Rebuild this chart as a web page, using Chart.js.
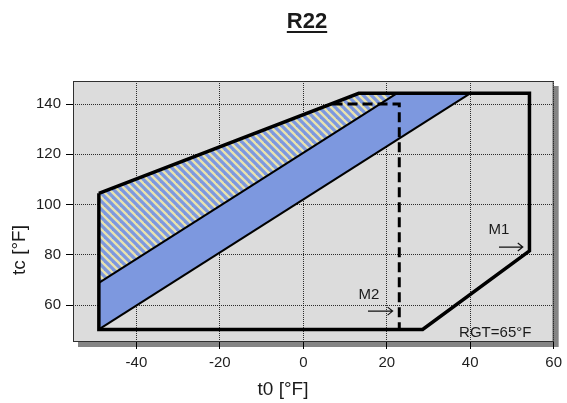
<!DOCTYPE html>
<html>
<head>
<meta charset="utf-8">
<script src="https://cdn.jsdelivr.net/npm/chart.js@4"></script>
<style>
    html, body { margin: 0; padding: 0; background: #fff; }
    #wrap { width: 567px; height: 403px; }
</style>
</head>
<body>
<div id="wrap"><canvas id="myChart" width="567" height="403"></canvas></div>
<script>
// R22 operating envelope, t0 / tc in °F
const t0Ticks = [-40, -20, 0, 20, 40, 60];
const tcTicks = [60, 80, 100, 120, 140];

// outer envelope (closed)
const envT0 = [-49, 13.3, 54.2, 54.2, 28.6, -49, -49];
const envTc = [104.5, 144.3, 144.3, 81.6, 50.3, 50.3, 104.5];

// hatched band top edge, and the line under it
const hatchT0 = [-49, 13.3, 22.4];
const hatchTc = [104.5, 144.3, 144.3];
const midT0 = [-49, 22.4];
const midTc = [68.8, 144.3];

// blue band top edge, and the lower line
const blueT0 = [-49, 22.4, 40];
const blueTc = [68.8, 144.3, 144.3];
const lowT0 = [-49, 40];
const lowTc = [50.3, 144.3];

// dashed limit
const dashT0 = [7, 23, 23];
const dashTc = [140, 140, 50.3];

const toPoints = (xs, ys) => xs.map((x, i) => ({x: x, y: ys[i]}));

// hatch pattern (blue with pale yellow diagonal stripes)
function makeHatch() {
    const s = 8;
    const tile = document.createElement('canvas');
    tile.width = s; tile.height = s;
    const c = tile.getContext('2d');
    c.fillStyle = '#7d98df';
    c.fillRect(0, 0, s, s);
    c.strokeStyle = '#e9e3ae';
    c.lineWidth = 2.4;
    for (let k = -1; k <= 1; k++) {
        c.beginPath();
        c.moveTo(k * s - 1, -1);
        c.lineTo(k * s + s + 1, s + 1);
        c.stroke();
    }
    return c.createPattern(tile, 'repeat');
}

const FONT = "'Liberation Sans', Arial, sans-serif";

// background, shadow, frame and texts
const decor = {
    id: 'decor',
    beforeDraw(chart) {
        const {ctx, chartArea: a} = chart;
        ctx.save();
        ctx.fillStyle = '#858585';
        ctx.fillRect(a.left + 5, a.top + 5, a.right - a.left, a.bottom - a.top);
        ctx.fillStyle = '#dcdcdc';
        ctx.fillRect(a.left, a.top, a.right - a.left, a.bottom - a.top);
        ctx.restore();
    },
    afterDraw(chart) {
        const {ctx, chartArea: a, scales} = chart;
        const px = v => scales.x.getPixelForValue(v);
        const py = v => scales.y.getPixelForValue(v);
        ctx.save();
        // frame
        ctx.strokeStyle = '#303030';
        ctx.lineWidth = 1;
        ctx.strokeRect(a.left + 0.5, a.top + 0.5, a.right - a.left - 1, a.bottom - a.top - 1);

        // title
        ctx.fillStyle = '#1a1a1a';
        ctx.font = 'bold 22px ' + FONT;
        ctx.textAlign = 'center';
        ctx.textBaseline = 'alphabetic';
        ctx.fillText('R22', 307, 28);
        const tw = ctx.measureText('R22').width;
        ctx.fillRect(307 - tw / 2, 31, tw, 2);

        // axis titles
        ctx.font = '19px ' + FONT;
        ctx.textBaseline = 'middle';
        ctx.fillText('t0 [°F]', 283, 390);
        ctx.save();
        ctx.translate(20, 250);
        ctx.rotate(-Math.PI / 2);
        ctx.fillText('tc [°F]', 0, 0);
        ctx.restore();

        // labels and arrows
        ctx.font = '15px ' + FONT;
        ctx.fillText('M1', px(46.9), py(89.9));
        ctx.fillText('M2', px(15.7), py(64));
        ctx.fillText('RGT=65°F', px(46), py(48.8));

        const arrow = (x1, x2, y) => {
            const X1 = px(x1), X2 = px(x2), Y = py(y);
            ctx.beginPath();
            ctx.moveTo(X1, Y);
            ctx.lineTo(X2, Y);
            ctx.moveTo(X2 - 5, Y - 4);
            ctx.lineTo(X2, Y);
            ctx.lineTo(X2 - 5, Y + 4);
            ctx.stroke();
        };
        ctx.strokeStyle = '#111';
        ctx.lineWidth = 1.2;
        arrow(46.9, 52.6, 83.1);
        arrow(15.5, 21.4, 57.6);
        ctx.restore();
    }
};

const gridOpts = {
    color: 'rgba(0,0,0,0.8)',
    tickBorderDash: [],
    tickColor: '#000',
    tickLength: 7,
    tickWidth: 1
};

const ctx = document.getElementById('myChart');
const chart = new Chart(ctx, {
    type: 'scatter',
    data: {
        datasets: [
            {   // envelope outline
                data: toPoints(envT0, envTc),
                showLine: true,
                borderColor: '#000',
                borderWidth: 3.5,
                borderJoinStyle: 'miter',
                pointRadius: 0,
                fill: false
            },
            {   // dashed limit
                data: toPoints(dashT0, dashTc),
                showLine: true,
                borderColor: '#000',
                borderWidth: 3,
                borderDash: [10, 5],
                pointRadius: 0,
                fill: false
            },
            {   // middle line
                data: toPoints(midT0, midTc),
                showLine: true,
                borderColor: '#000',
                borderWidth: 2,
                pointRadius: 0,
                fill: false
            },
            {   // lower line
                data: toPoints(lowT0, lowTc),
                showLine: true,
                borderColor: '#000',
                borderWidth: 2,
                pointRadius: 0,
                fill: false
            },
            {   // hatched band
                data: toPoints(hatchT0, hatchTc),
                showLine: true,
                borderWidth: 0,
                borderColor: 'rgba(0,0,0,0)',
                pointRadius: 0,
                fill: {target: 2},
                backgroundColor: makeHatch()
            },
            {   // blue band
                data: toPoints(blueT0, blueTc),
                showLine: true,
                borderWidth: 0,
                borderColor: 'rgba(0,0,0,0)',
                pointRadius: 0,
                fill: {target: 3},
                backgroundColor: '#7d98df'
            }
        ]
    },
    options: {
        responsive: false,
        animation: false,
        events: [],
        layout: {
            padding: {top: 81, right: 9, left: 0, bottom: 0}
        },
        plugins: {
            legend: {display: false},
            tooltip: {enabled: false},
            title: {display: false}
        },
        scales: {
            x: {
                type: 'linear',
                min: -55.2,
                max: 60,
                z: 1,
                afterFit: scale => { scale.height = 61; },
                afterBuildTicks: scale => { scale.ticks = t0Ticks.map(v => ({value: v})); },
                grid: gridOpts,
                border: {display: false, dash: [1, 1]},
                ticks: {
                    color: '#1e1e1e',
                    padding: 5,
                    maxRotation: 0,
                    font: {family: FONT, size: 15}
                }
            },
            y: {
                type: 'linear',
                min: 45.3,
                max: 149.2,
                z: 1,
                afterFit: scale => { scale.width = 73; },
                afterBuildTicks: scale => { scale.ticks = tcTicks.map(v => ({value: v})); },
                grid: gridOpts,
                border: {display: false, dash: [1, 1]},
                ticks: {
                    color: '#1e1e1e',
                    padding: 5,
                    font: {family: FONT, size: 15}
                }
            }
        }
    },
    plugins: [decor]
});
</script>
</body>
</html>
